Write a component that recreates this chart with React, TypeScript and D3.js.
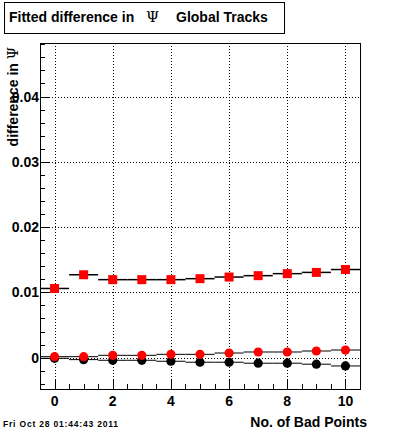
import React, { useEffect, useRef } from "react";
import * as d3 from "d3";

const badPoints = [0, 1, 2, 3, 4, 5, 6, 7, 8, 9, 10];
const squareVals = [0.0106, 0.0127, 0.01195, 0.01195, 0.01195, 0.0121, 0.01235, 0.01256, 0.01287, 0.01306, 0.0135];
const redCircleVals = [0.00015, 0.00015, 0.00036, 0.00036, 0.00051, 0.00051, 0.00071, 0.00087, 0.00087, 0.00102, 0.00117];
const blackCircleVals = [-0.0001, -0.0003, -0.0004, -0.0004, -0.00055, -0.0007, -0.0007, -0.00085, -0.00085, -0.001, -0.00127];
const xTickLabels = [0, 2, 4, 6, 8, 10];
const yTickLabels = [0, 0.01, 0.02, 0.03, 0.04];

const FONT = "'Liberation Sans', Arial, sans-serif";

export default function App() {
  const svgRef = useRef<SVGSVGElement>(null);

  useEffect(() => {
    const svg = d3.select(svgRef.current);
    svg.selectAll("*").remove();

    const left = 40, right = 360, top = 43, bottom = 389;
    const x = d3.scaleLinear().domain([-0.5, 10.5]).range([left, right]);
    const y = d3.scaleLinear().domain([-0.0048, 0.0482]).range([bottom, top]);

    svg.append("rect").attr("width", 400).attr("height", 433).attr("fill", "white");

    // grid
    const grid = svg.append("g").attr("stroke", "black").attr("stroke-dasharray", "1 2").attr("stroke-width", 1);
    grid.selectAll("line.gx").data(xTickLabels).join("line")
      .attr("x1", (d) => Math.round(x(d)) + 0.5).attr("x2", (d) => Math.round(x(d)) + 0.5)
      .attr("y1", top).attr("y2", bottom);
    grid.selectAll("line.gy").data(yTickLabels).join("line")
      .attr("y1", (d) => Math.round(y(d)) + 0.5).attr("y2", (d) => Math.round(y(d)) + 0.5)
      .attr("x1", left).attr("x2", right);

    // frame
    svg.append("rect").attr("x", left + 0.5).attr("y", top + 0.5)
      .attr("width", right - left).attr("height", bottom - top)
      .attr("fill", "none").attr("stroke", "black");

    // y ticks
    const yMinor = d3.range(-0.004, 0.0481, 0.002);
    svg.append("g").attr("stroke", "black").selectAll("line").data(yMinor).join("line")
      .attr("x1", left).attr("x2", (d) => left + (Math.abs(d / 0.01 - Math.round(d / 0.01)) < 1e-6 ? 10 : 5))
      .attr("y1", (d) => Math.round(y(d)) + 0.5).attr("y2", (d) => Math.round(y(d)) + 0.5);

    // x ticks
    const xMinor = d3.range(-0.5, 10.51, 0.5);
    svg.append("g").attr("stroke", "black").selectAll("line").data(xMinor).join("line")
      .attr("x1", (d) => Math.round(x(d)) + 0.5).attr("x2", (d) => Math.round(x(d)) + 0.5)
      .attr("y1", bottom).attr("y2", (d) => bottom - (d % 2 === 0 ? 10 : 5));

    // tick labels
    svg.append("g").selectAll("text").data(yTickLabels).join("text")
      .attr("x", 39).attr("y", (d) => y(d) + 5)
      .attr("text-anchor", "end").attr("font-family", FONT).attr("font-weight", "bold").attr("font-size", 14)
      .text((d) => (d === 0 ? "0" : d3.format(".2f")(d)));
    svg.append("g").selectAll("text").data(xTickLabels).join("text")
      .attr("x", (d) => x(d)).attr("y", 405.5)
      .attr("text-anchor", "middle").attr("font-family", FONT).attr("font-weight", "bold").attr("font-size", 14)
      .text((d) => d);

    // step lines
    const series = [
      { vals: blackCircleVals, width: 1 },
      { vals: redCircleVals, width: 1 },
      { vals: squareVals, width: 1.5 },
    ];
    series.forEach((s) => {
      svg.append("g").attr("stroke", "black").attr("stroke-width", s.width)
        .selectAll("line").data(badPoints).join("line")
        .attr("x1", (d) => x(d - 0.5)).attr("x2", (d) => x(d + 0.5))
        .attr("y1", (d, i) => y(s.vals[i])).attr("y2", (d, i) => y(s.vals[i]));
    });

    // markers
    svg.append("g").selectAll("circle").data(badPoints).join("circle")
      .attr("cx", (d) => x(d)).attr("cy", (d, i) => y(blackCircleVals[i])).attr("r", 4.6).attr("fill", "black");
    svg.append("g").selectAll("circle").data(badPoints).join("circle")
      .attr("cx", (d) => x(d)).attr("cy", (d, i) => y(redCircleVals[i])).attr("r", 4.6).attr("fill", "red");
    svg.append("g").selectAll("rect").data(badPoints).join("rect")
      .attr("x", (d) => x(d) - 4.5).attr("y", (d, i) => y(squareVals[i]) - 4.5)
      .attr("width", 9).attr("height", 9).attr("fill", "red");

    // title box
    svg.append("rect").attr("x", 4.5).attr("y", 2.5).attr("width", 280).attr("height", 31)
      .attr("fill", "white").attr("stroke", "black");
    const title = svg.append("text").attr("y", 22.3).attr("font-family", FONT).attr("font-weight", "bold").attr("font-size", 14);
    title.append("tspan").attr("x", 9).text("Fitted difference in");
    title.append("tspan").attr("x", 146).attr("font-family", "'DejaVu Serif', serif").attr("font-weight", "normal").attr("font-size", 15).text("Ψ");
    title.append("tspan").attr("x", 176).text("Global Tracks");

    // axis titles
    svg.append("text").attr("transform", "translate(18,47) rotate(-90)")
      .attr("text-anchor", "end").attr("font-family", FONT).attr("font-weight", "bold").attr("font-size", 14)
      .text("difference in ")
      .append("tspan").attr("font-family", "'DejaVu Serif', serif").attr("font-weight", "normal").text("Ψ");
    svg.append("text").attr("x", 367).attr("y", 427)
      .attr("text-anchor", "end").attr("font-family", FONT).attr("font-weight", "bold").attr("font-size", 14)
      .text("No. of Bad Points");
    svg.append("text").attr("x", 3).attr("y", 427).attr("textLength", 115)
      .attr("font-family", FONT).attr("font-weight", "bold").attr("font-size", 8.5)
      .text("Fri Oct 28 01:44:43 2011");
  }, []);

  return (
    <svg ref={svgRef} width={400} height={433} style={{ position: "absolute", left: 0, top: 0 }}></svg>
  );
}
